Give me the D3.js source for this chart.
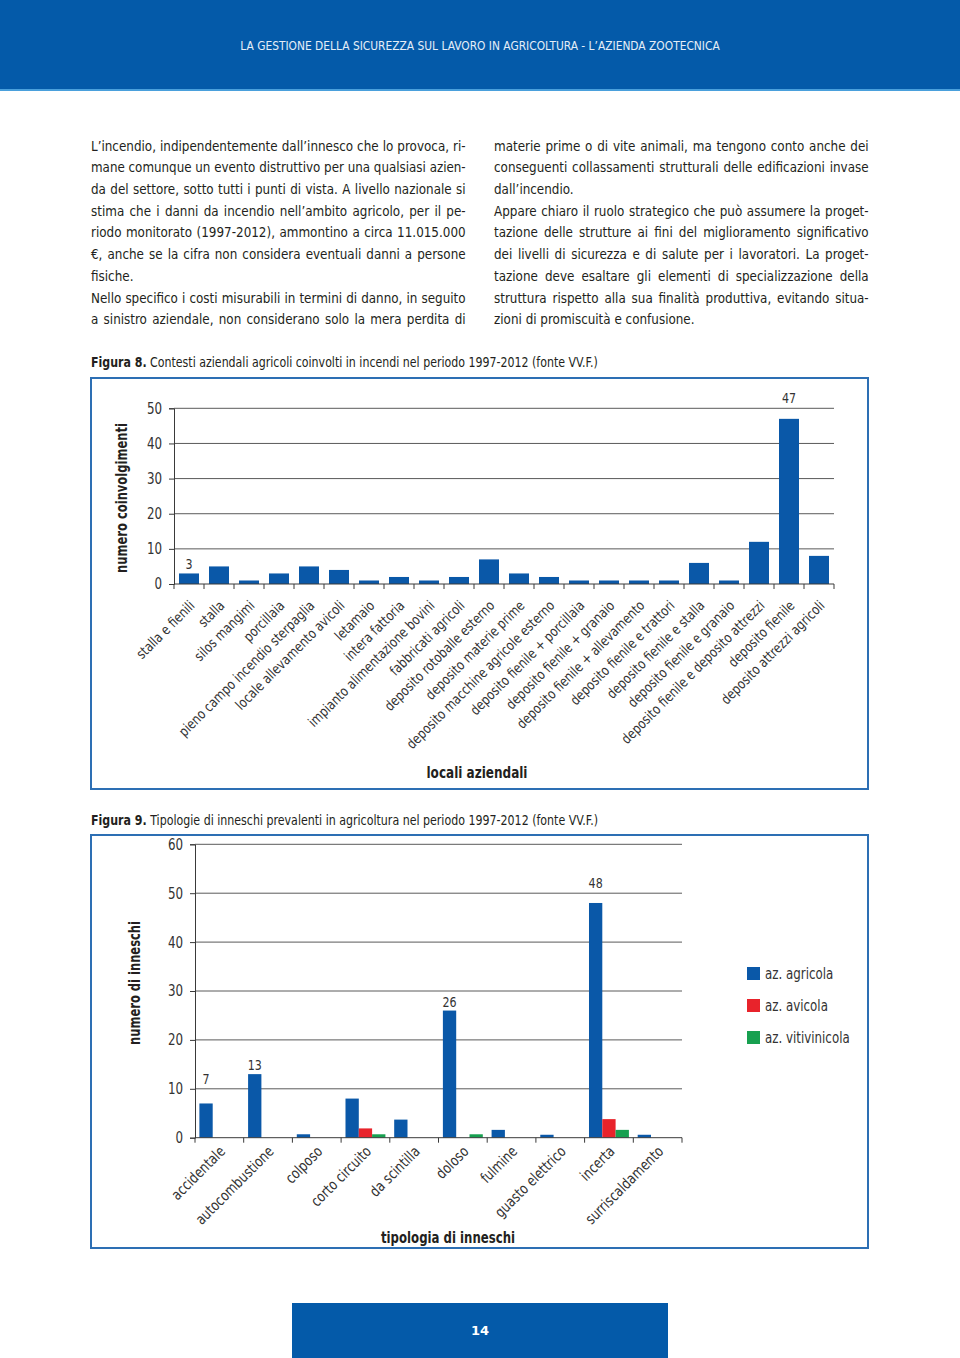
<!DOCTYPE html>
<html><head><meta charset="utf-8">
<script src="https://cdn.jsdelivr.net/npm/d3@7"></script>
<style>
html,body{margin:0;padding:0;background:#fff;}
svg{display:block;}
</style></head>
<body>
<svg id="page" width="960" height="1358"></svg>
<script>
const COND = "'Liberation Sans Narrow','DejaVu Sans Condensed','Roboto Condensed','Arial Narrow',sans-serif";

// ---------- text content ----------
const headerTitle = "LA GESTIONE DELLA SICUREZZA SUL LAVORO IN AGRICOLTURA - L’AZIENDA ZOOTECNICA";
const leftLines = [
  "L’incendio, indipendentemente dall’innesco che lo provoca, ri-",
  "mane comunque un evento distruttivo per una qualsiasi azien-",
  "da del settore, sotto tutti i punti di vista. A livello nazionale si",
  "stima che i danni da incendio nell’ambito agricolo, per il pe-",
  "riodo monitorato (1997-2012), ammontino a circa 11.015.000",
  "€, anche se la cifra non considera eventuali danni a persone",
  "fisiche.",
  "Nello specifico i costi misurabili in termini di danno, in seguito",
  "a sinistro aziendale, non considerano solo la mera perdita di"
];
const leftJustified = [true, true, true, true, true, true, false, true, true];
const rightLines = [
  "materie prime o di vite animali, ma tengono conto anche dei",
  "conseguenti collassamenti strutturali delle edificazioni invase",
  "dall’incendio.",
  "Appare chiaro il ruolo strategico che può assumere la proget-",
  "tazione delle strutture ai fini del miglioramento significativo",
  "dei livelli di sicurezza e di salute per i lavoratori. La proget-",
  "tazione deve esaltare gli elementi di specializzazione della",
  "struttura rispetto alla sua finalità produttiva, evitando situa-",
  "zioni di promiscuità e confusione."
];
const rightJustified = [true, true, false, true, true, true, true, true, false];

const fig8CaptionBold = "Figura 8.";
const fig8CaptionText = " Contesti aziendali agricoli coinvolti in incendi nel periodo 1997-2012 (fonte VV.F.)";
const fig9CaptionBold = "Figura 9.";
const fig9CaptionText = " Tipologie di inneschi prevalenti in agricoltura nel periodo 1997-2012 (fonte VV.F.)";
const pageNumber = "14";

// ---------- figure 8 data ----------
const fig8Categories = [
  "stalla e fienili", "stalla", "silos mangimi", "porcillaia",
  "pieno campo incendio sterpaglia", "locale allevamento avicoli", "letamaio",
  "intera fattoria", "impianto alimentazione bovini", "fabbricati agricoli",
  "deposito rotoballe esterno", "deposito materie prime",
  "deposito macchine agricole esterno", "deposito fienile + porcillaia",
  "deposito fienile + granaio", "deposito fienile + allevamento",
  "deposito fienile e trattori", "deposito fienile e stalla",
  "deposito fienile e granaio", "deposito fienile e deposito attrezzi",
  "deposito fienile", "deposito attrezzi agricoli"
];
const fig8Values = [3, 5, 1, 3, 5, 4, 1, 2, 1, 2, 7, 3, 2, 1, 1, 1, 1, 6, 1, 12, 47, 8];
const fig8LabelledIndex = [0, 20];
const fig8Ticks = [0, 10, 20, 30, 40, 50];
const fig8YTitle = "numero coinvolgimenti";
const fig8XTitle = "locali aziendali";

// ---------- figure 9 data ----------
const fig9Categories = ["accidentale", "autocombustione", "colposo", "corto circuito",
  "da scintilla", "doloso", "fulmine", "guasto elettrico", "incerta", "surriscaldamento"];
const fig9Series = ["az. agricola", "az. avicola", "az. vitivinicola"];
const fig9Agricola     = [7, 13, 0.7, 8, 3.7, 26, 1.6, 0.6, 48, 0.6];
const fig9Avicola      = [0, 0, 0, 1.9, 0, 0, 0, 0, 3.8, 0];
const fig9Vitivinicola = [0, 0, 0, 0.7, 0, 0.7, 0, 0, 1.6, 0];
const fig9LabelledIndex = [0, 1, 5, 8];
const fig9Ticks = [0, 10, 20, 30, 40, 50, 60];
const fig9YTitle = "numero di inneschi";
const fig9XTitle = "tipologia di inneschi";

// ---------- styles ----------
const BLUE = "#0a58a8", RED = "#e8232b", GREEN = "#17a050";
const seriesColors = [BLUE, RED, GREEN];
const TXT = "#231f20", AXC = "#3a3a3a", GRID = "#5a5a5a", FRAME = "#2d6fb4";

const svg = d3.select("#page");

function scaleX(sel, ax, s) {
  sel.attr("transform", `translate(${ax},0) scale(${s},1) translate(${-ax},0)`);
}
function scaleToWidth(sel, ax, target) {
  const w = sel.node().getComputedTextLength();
  if (w > 0) scaleX(sel, ax, target / w);
}
function condense(sel, factor) {
  sel.each(function () {
    const w = this.getComputedTextLength();
    if (w > 0) d3.select(this).attr("textLength", w * factor).attr("lengthAdjust", "spacingAndGlyphs");
  });
}
function fitLength(sel, target) {
  sel.attr("textLength", target).attr("lengthAdjust", "spacingAndGlyphs");
}

// ---------- header ----------
svg.append("rect").attr("x", 0).attr("y", 0).attr("width", 960).attr("height", 90).attr("fill", "#045aa9");
svg.append("rect").attr("x", 0).attr("y", 89).attr("width", 960).attr("height", 2).attr("fill", "#4aa0dc");
const ht = svg.append("text").attr("x", 480).attr("y", 50.5).attr("text-anchor", "middle")
  .attr("font-family", COND).attr("font-size", 12).attr("fill", "#e4eef8").text(headerTitle);
scaleToWidth(ht, 480, 480);

// ---------- paragraphs ----------
const CF = 0.9; // condensing factor to mimic the narrow typeface
function drawColumn(lines, flags, x0, width) {
  const g = svg.append("g").attr("font-family", COND).attr("font-size", 14.8).attr("fill", TXT);
  lines.forEach((line, i) => {
    const y = 150.7 + i * 21.7;
    const t = g.append("text").attr("x", x0).attr("y", y).text(line);
    const w = t.node().getComputedTextLength();
    if (!flags[i]) { scaleX(t, x0, CF); return; }
    if (w * CF >= width) { scaleX(t, x0, width / w); return; }
    const spaces = (line.match(/ /g) || []).length;
    t.attr("word-spacing", (width / CF - w) / spaces);
    const w2 = t.node().getComputedTextLength();
    scaleX(t, x0, width / w2);
  });
}
drawColumn(leftLines, leftJustified, 91, 375);
drawColumn(rightLines, rightJustified, 494, 375);

// ---------- captions ----------
function caption(y, bold, rest) {
  const t = svg.append("text").attr("x", 91).attr("y", y).attr("font-family", COND)
    .attr("font-size", 14.6).attr("fill", TXT);
  t.append("tspan").attr("font-weight", "bold").text(bold);
  t.append("tspan").text(rest);
  const w = t.node().getBBox().width;
  scaleX(t, 91, 507 / w);
}
caption(367, fig8CaptionBold, fig8CaptionText);
caption(825.5, fig9CaptionBold, fig9CaptionText);

// ---------- frames ----------
svg.append("rect").attr("x", 91).attr("y", 378).attr("width", 777).attr("height", 411)
  .attr("fill", "none").attr("stroke", FRAME).attr("stroke-width", 2);
svg.append("rect").attr("x", 91).attr("y", 835).attr("width", 777).attr("height", 413)
  .attr("fill", "none").attr("stroke", FRAME).attr("stroke-width", 2);

// ---------- figure 8 ----------
{
  const left = 174, right = 834, top = 408.3, bottom = 584;
  const x = d3.scaleBand().domain(fig8Categories).range([left, right]).paddingInner(1 / 3).paddingOuter(1 / 6);
  const y = d3.scaleLinear().domain([0, 50]).range([bottom, top]);
  const g = svg.append("g");

  g.selectAll("line.grid").data(fig8Ticks.filter(d => d > 0)).join("line")
    .attr("x1", left).attr("x2", right).attr("y1", d => y(d)).attr("y2", d => y(d))
    .attr("stroke", GRID).attr("stroke-width", 1);

  const ya = g.append("g").attr("transform", `translate(${left},0)`)
    .call(d3.axisLeft(y).tickValues(fig8Ticks).tickSize(5).tickPadding(7));
  ya.select(".domain").attr("stroke", AXC);
  ya.selectAll(".tick line").attr("stroke", AXC);
  ya.selectAll(".tick text").attr("font-family", COND).attr("font-size", 15.5).attr("fill", "#333");
  condense(ya.selectAll(".tick text"), 0.85);

  g.selectAll("rect.bar").data(fig8Values).join("rect")
    .attr("x", (d, i) => x(fig8Categories[i])).attr("width", x.bandwidth())
    .attr("y", d => y(d)).attr("height", d => bottom - y(d)).attr("fill", BLUE);

  g.append("line").attr("x1", left).attr("x2", right).attr("y1", bottom).attr("y2", bottom).attr("stroke", AXC);
  const step = x.step();
  g.selectAll("line.xt").data(d3.range(fig8Categories.length + 1)).join("line")
    .attr("x1", i => left + i * step).attr("x2", i => left + i * step)
    .attr("y1", bottom).attr("y2", bottom + 5).attr("stroke", AXC);

  const xl = g.selectAll("text.xl").data(fig8Categories).join("text")
    .attr("transform", d => `translate(${x(d) + x.bandwidth() / 2 + 3},${bottom + 19}) rotate(-45)`)
    .attr("text-anchor", "end").attr("dy", "0.35em")
    .attr("font-family", COND).attr("font-size", 14).attr("fill", "#333").text(d => d);
  condense(xl, 0.9);

  const grids = fig8Ticks.map(t => y(t));
  fig8LabelledIndex.forEach(i => {
    let base = y(fig8Values[i]) - 4;
    const hit = grids.find(gy => gy > base - 13 && gy < base + 2);
    if (hit !== undefined) base = hit - 5;
    const vt = g.append("text").attr("x", x(fig8Categories[i]) + x.bandwidth() / 2).attr("y", base)
      .attr("text-anchor", "middle").attr("font-family", COND).attr("font-size", 14.5)
      .attr("fill", "#333").text(fig8Values[i]);
    condense(vt, 0.85);
  });

  const yt = g.append("text").attr("transform", `translate(127,498) rotate(-90)`).attr("text-anchor", "middle")
    .attr("font-family", COND).attr("font-weight", "bold").attr("font-size", 15.5).attr("fill", TXT).text(fig8YTitle);
  fitLength(yt, 150);
  const xt = g.append("text").attr("x", 477).attr("y", 778).attr("text-anchor", "middle")
    .attr("font-family", COND).attr("font-weight", "bold").attr("font-size", 16).attr("fill", TXT).text(fig8XTitle);
  fitLength(xt, 101);
}

// ---------- figure 9 ----------
{
  const left = 195, right = 682, top = 844.3, bottom = 1137.7;
  const x0 = d3.scaleBand().domain(fig9Categories).range([left, right]).padding(0);
  const x1 = d3.scaleBand().domain(fig9Series).range([0, x0.bandwidth()]).paddingInner(0).paddingOuter(0.33);
  const y = d3.scaleLinear().domain([0, 60]).range([bottom, top]);
  const g = svg.append("g");

  g.selectAll("line.grid").data(fig9Ticks.filter(d => d > 0)).join("line")
    .attr("x1", left).attr("x2", right).attr("y1", d => y(d)).attr("y2", d => y(d))
    .attr("stroke", GRID).attr("stroke-width", 1);

  const ya = g.append("g").attr("transform", `translate(${left},0)`)
    .call(d3.axisLeft(y).tickValues(fig9Ticks).tickSize(5).tickPadding(7));
  ya.select(".domain").attr("stroke", AXC);
  ya.selectAll(".tick line").attr("stroke", AXC);
  ya.selectAll(".tick text").attr("font-family", COND).attr("font-size", 15.5).attr("fill", "#333");
  condense(ya.selectAll(".tick text"), 0.85);

  const seriesData = [fig9Agricola, fig9Avicola, fig9Vitivinicola];
  const groups = g.selectAll("g.cat").data(fig9Categories).join("g")
    .attr("transform", d => `translate(${x0(d)},0)`);
  groups.selectAll("rect").data((d, i) => fig9Series.map((s, k) => ({ s, k, v: seriesData[k][i] })))
    .join("rect")
    .attr("x", d => x1(d.s)).attr("width", x1.bandwidth())
    .attr("y", d => y(d.v)).attr("height", d => bottom - y(d.v)).attr("fill", d => seriesColors[d.k]);

  g.append("line").attr("x1", left).attr("x2", right).attr("y1", bottom).attr("y2", bottom).attr("stroke", AXC);
  const step = x0.step();
  g.selectAll("line.xt").data(d3.range(fig9Categories.length + 1)).join("line")
    .attr("x1", i => left + i * step).attr("x2", i => left + i * step)
    .attr("y1", bottom).attr("y2", bottom + 5).attr("stroke", AXC);

  const xl = g.selectAll("text.xl").data(fig9Categories).join("text")
    .attr("transform", d => `translate(${x0(d) + x0.bandwidth() / 2 + 3},${bottom + 11}) rotate(-45)`)
    .attr("text-anchor", "end").attr("dy", "0.35em")
    .attr("font-family", COND).attr("font-size", 15).attr("fill", "#333").text(d => d);
  condense(xl, 0.88);

  const grids = fig9Ticks.map(t => y(t));
  fig9LabelledIndex.forEach(i => {
    let base = y(fig9Agricola[i]) - 4;
    const hit = grids.find(gy => gy > base - 13 && gy < base + 2);
    if (hit !== undefined) base = hit - 5;
    const vt = g.append("text").attr("x", x0(fig9Categories[i]) + x1(fig9Series[0]) + x1.bandwidth() / 2).attr("y", base)
      .attr("text-anchor", "middle").attr("font-family", COND).attr("font-size", 14.5)
      .attr("fill", "#333").text(fig9Agricola[i]);
    condense(vt, 0.85);
  });

  const lg = g.append("g").attr("transform", "translate(747,967)");
  fig9Series.forEach((s, k) => {
    lg.append("rect").attr("x", 0).attr("y", k * 32).attr("width", 13).attr("height", 13).attr("fill", seriesColors[k]);
    const lt = lg.append("text").attr("x", 18).attr("y", k * 32 + 11.5).attr("font-family", COND)
      .attr("font-size", 15.5).attr("fill", "#333").text(s);
    condense(lt, 0.85);
  });

  const yt = g.append("text").attr("transform", `translate(140,983) rotate(-90)`).attr("text-anchor", "middle")
    .attr("font-family", COND).attr("font-weight", "bold").attr("font-size", 15.5).attr("fill", TXT).text(fig9YTitle);
  fitLength(yt, 124);
  const xt = g.append("text").attr("x", 448).attr("y", 1243).attr("text-anchor", "middle")
    .attr("font-family", COND).attr("font-weight", "bold").attr("font-size", 16).attr("fill", TXT).text(fig9XTitle);
  fitLength(xt, 134);
}

// ---------- footer ----------
svg.append("rect").attr("x", 292).attr("y", 1303).attr("width", 376).attr("height", 55).attr("fill", "#045aa9");
svg.append("text").attr("x", 480).attr("y", 1335).attr("text-anchor", "middle")
  .attr("font-family", "'DejaVu Sans',sans-serif").attr("font-weight", "bold").attr("font-size", 13)
  .attr("fill", "#fff").text(pageNumber);
</script>
</body></html>
